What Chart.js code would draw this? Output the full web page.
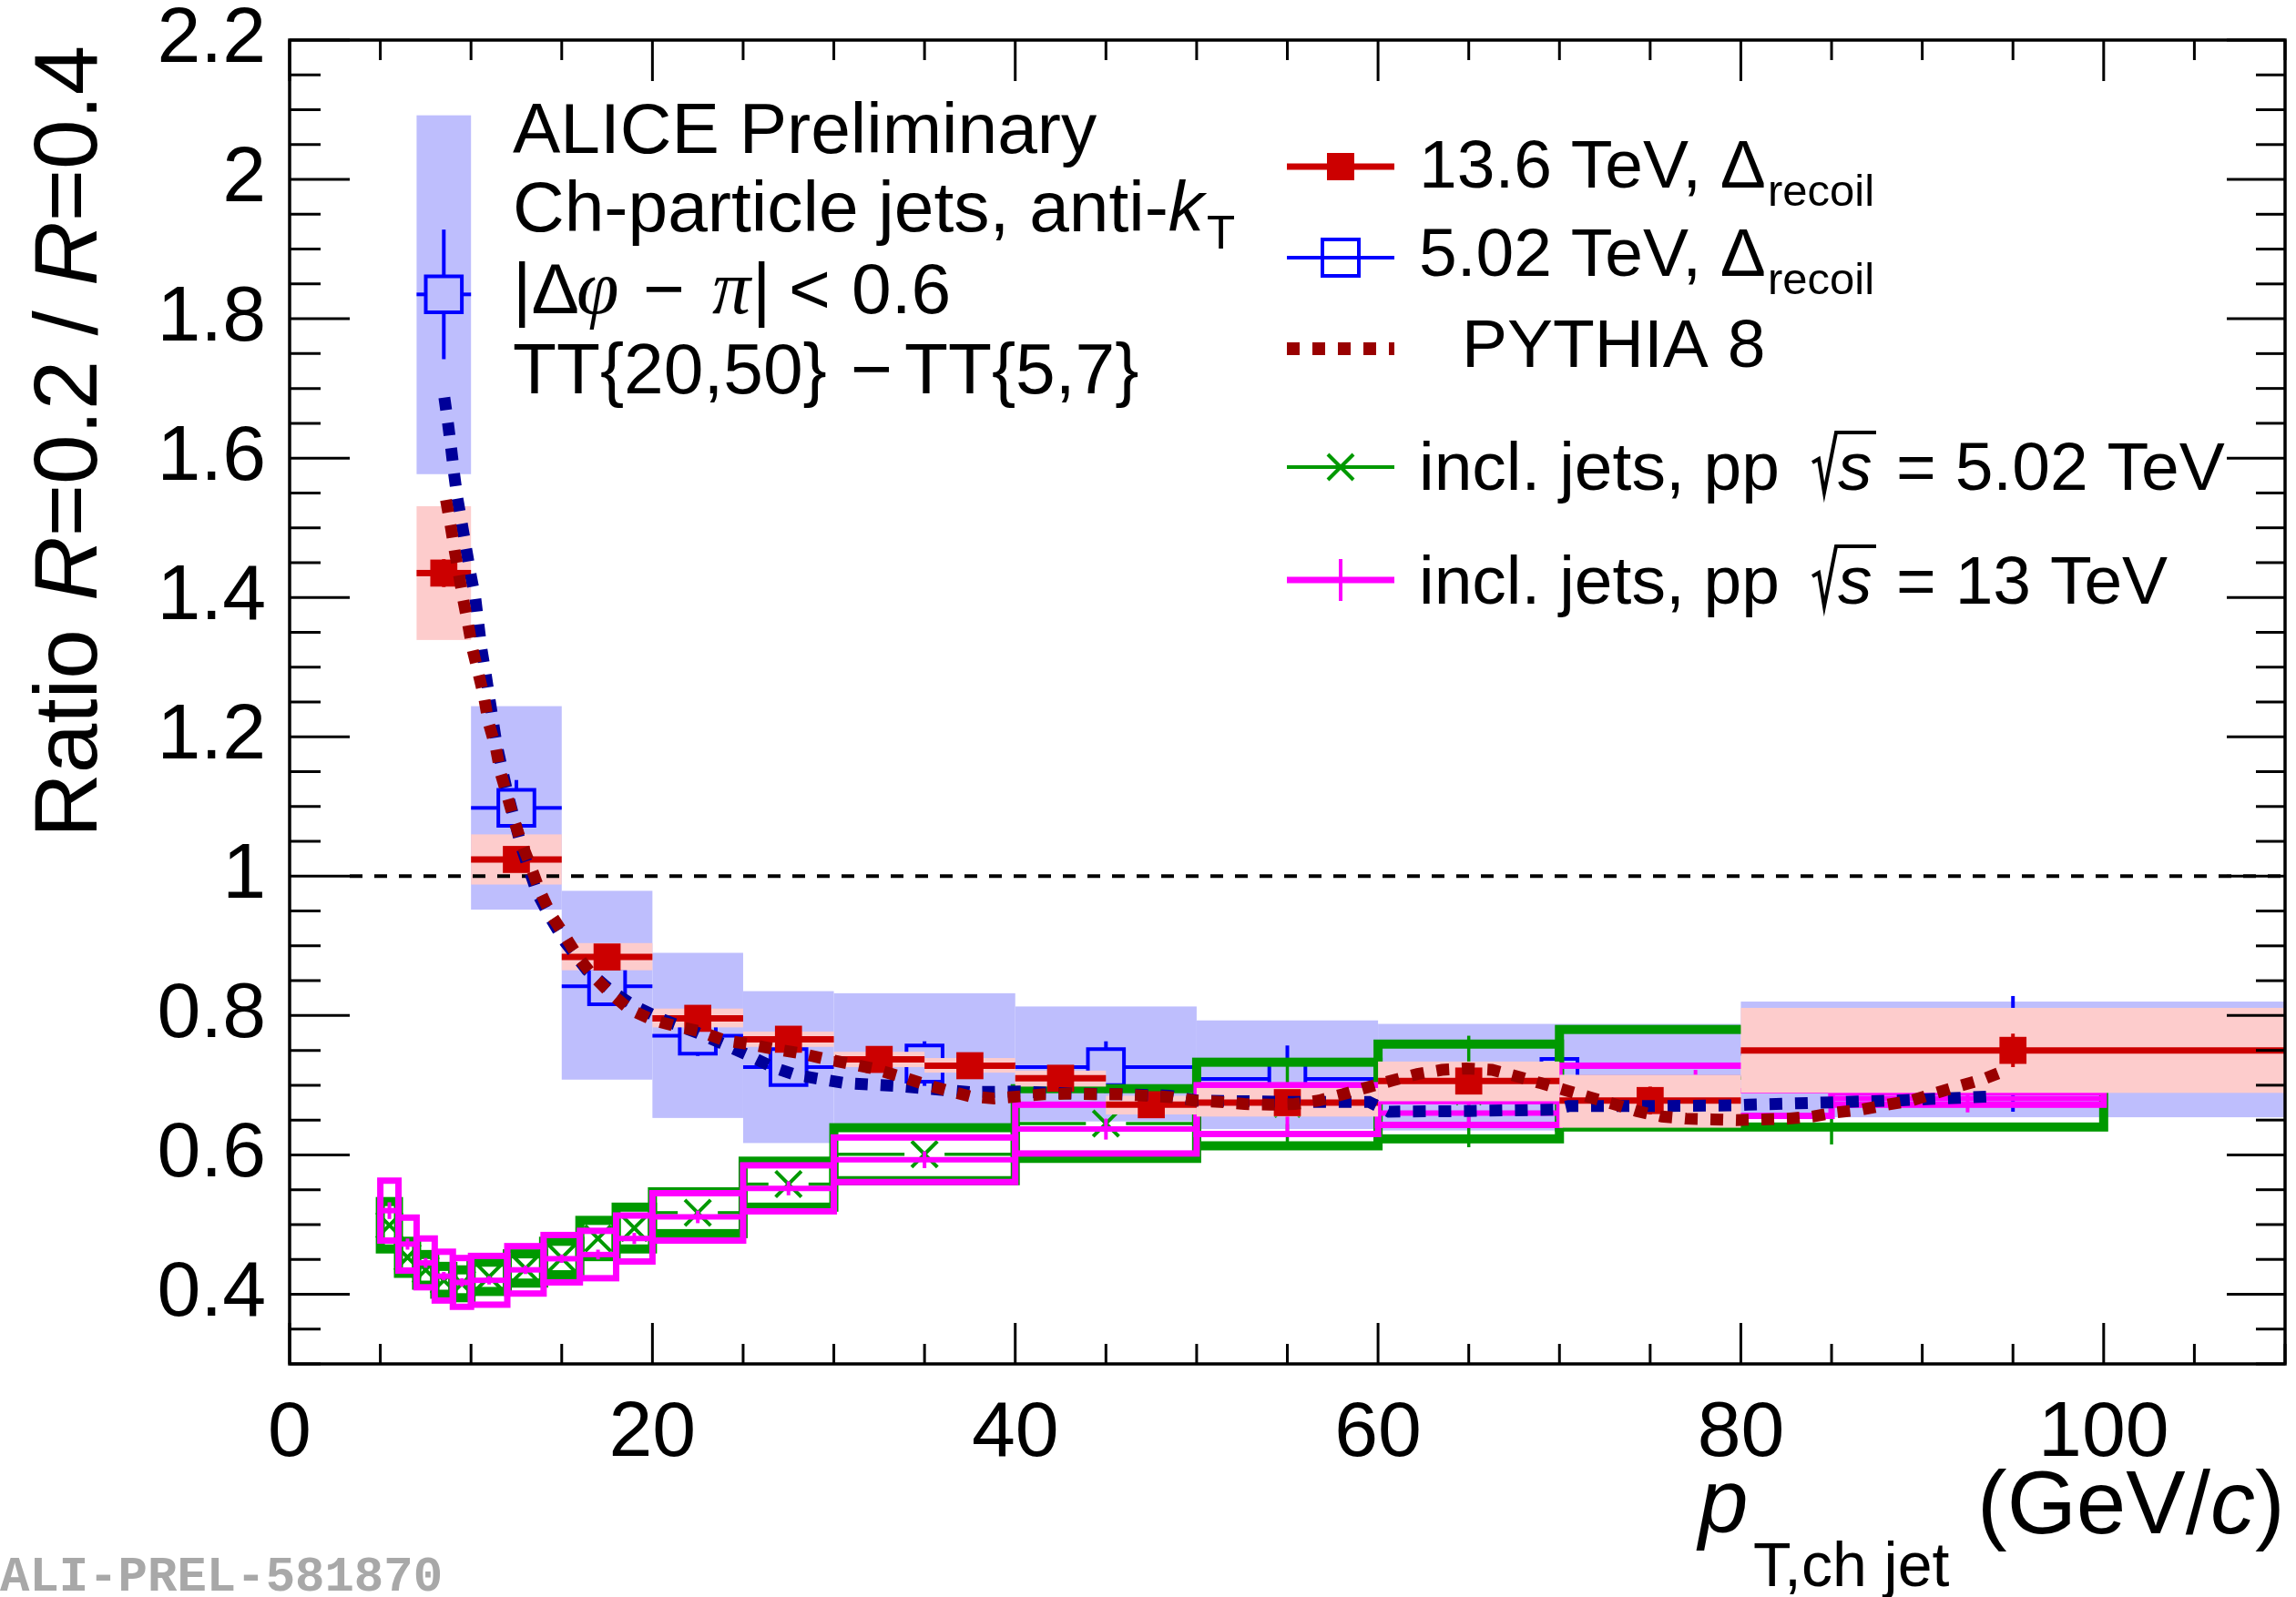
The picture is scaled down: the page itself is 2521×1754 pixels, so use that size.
<!DOCTYPE html>
<html><head><meta charset="utf-8">
<script src="https://cdn.jsdelivr.net/npm/chart.js@4.4.1/dist/chart.umd.min.js"></script>
<style>html,body{margin:0;padding:0;background:#fff;overflow:hidden}canvas{display:block}</style>
</head><body>
<canvas id="c" width="2521" height="1754" style="width:2521px;height:1754px"></canvas>
<script>
// ================= DATA =================
const xTickValues = [0, 20, 40, 60, 80, 100];
const yTickValues = [0.4, 0.6, 0.8, 1.0, 1.2, 1.4, 1.6, 1.8, 2.0, 2.2];

// 13.6 TeV, Delta_recoil
const r136Edges = [7, 10, 15, 20, 25, 30, 35, 40, 45, 50, 60, 70, 80, 110];
const r136X     = [8.5, 12.5, 17.5, 22.5, 27.5, 32.5, 37.5, 42.5, 47.5, 55, 65, 75, 95];
const r136Y     = [1.435, 1.024, 0.884, 0.796, 0.766, 0.737, 0.728, 0.710, 0.672, 0.675, 0.706, 0.678, 0.750];
const r136Stat  = [0.020, 0.012, 0.010, 0.008, 0.008, 0.008, 0.008, 0.008, 0.010, 0.012, 0.015, 0.020, 0.024];
const r136SysLo = [1.339, 0.988, 0.865, 0.783, 0.755, 0.726, 0.718, 0.698, 0.658, 0.655, 0.677, 0.639, 0.689];
const r136SysHi = [1.531, 1.060, 0.904, 0.810, 0.777, 0.748, 0.739, 0.721, 0.685, 0.696, 0.734, 0.715, 0.811];

// 5.02 TeV, Delta_recoil
const r502Edges = [7, 10, 15, 20, 25, 30, 40, 50, 60, 80, 110];
const r502X     = [8.5, 12.5, 17.5, 22.5, 27.5, 35, 45, 55, 70, 95];
const r502Y     = [1.835, 1.098, 0.842, 0.771, 0.726, 0.731, 0.726, 0.709, 0.712, 0.745];
const r502Stat  = [0.093, 0.040, 0.026, 0.029, 0.018, 0.032, 0.037, 0.048, 0.030, 0.083];
const r502SysLo = [1.577, 0.952, 0.708, 0.653, 0.617, 0.643, 0.648, 0.637, 0.635, 0.654];
const r502SysHi = [2.092, 1.244, 0.979, 0.890, 0.835, 0.832, 0.813, 0.793, 0.788, 0.820];

// incl. jets, pp sqrt(s) = 5.02 TeV
const pp502Edges = [5, 6, 7, 8, 9, 10, 12, 14, 16, 18, 20, 25, 30, 40, 50, 60, 70, 100];
const pp502X     = [5.5, 6.5, 7.5, 8.5, 9.5, 11, 13, 15, 17, 19, 22.5, 27.5, 35, 45, 55, 65, 85];
const pp502Y     = [0.499, 0.453, 0.435, 0.420, 0.415, 0.425, 0.437, 0.452, 0.480, 0.495, 0.517, 0.558, 0.601, 0.645, 0.673, 0.691, 0.710];
const pp502Stat  = [0.006, 0.005, 0.005, 0.005, 0.005, 0.005, 0.005, 0.006, 0.006, 0.007, 0.008, 0.010, 0.012, 0.020, 0.065, 0.080, 0.095];
const pp502Sys   = [0.034, 0.023, 0.022, 0.020, 0.020, 0.021, 0.021, 0.024, 0.026, 0.030, 0.030, 0.033, 0.038, 0.050, 0.060, 0.068, 0.070];

// incl. jets, pp sqrt(s) = 13 TeV
const pp13Edges = [5, 6, 7, 8, 9, 10, 12, 14, 16, 18, 20, 25, 30, 40, 50, 60, 70, 85, 100];
const pp13X     = [5.5, 6.5, 7.5, 8.5, 9.5, 11, 13, 15, 17, 19, 22.5, 27.5, 35, 45, 55, 65, 77.5, 92.5];
const pp13Y     = [0.520, 0.472, 0.445, 0.426, 0.417, 0.420, 0.435, 0.451, 0.457, 0.480, 0.511, 0.552, 0.593, 0.637, 0.665, 0.660, 0.692, 0.681];
const pp13Stat  = [0.012, 0.008, 0.007, 0.006, 0.006, 0.006, 0.006, 0.006, 0.007, 0.008, 0.009, 0.010, 0.012, 0.015, 0.037, 0.020, 0.030, 0.020];
const pp13Sys   = [0.043, 0.038, 0.035, 0.035, 0.035, 0.035, 0.034, 0.034, 0.034, 0.033, 0.034, 0.033, 0.032, 0.035, 0.035, 0.017, 0.036, 0.009];

// PYTHIA 8 (13.6 TeV setting)
const pyth136X = [8.62, 8.87, 9.10, 9.34, 9.57, 9.84, 10.08, 10.41, 10.71, 10.96, 11.37, 11.62, 12.0, 12.37, 12.79, 13.29, 13.79, 14.38, 15.13, 15.88, 16.72, 17.64, 18.73, 19.98, 21.24, 22.66, 24.0, 25.37, 26.71, 28.13, 29.47, 30.81, 32.15, 33.48, 34.82, 36.16, 37.5, 38.84, 40.26, 41.59, 43.02, 44.36, 45.78, 47.12, 48.54, 49.88, 51.3, 52.64, 54.07, 55.41, 56.74, 58.08, 59.42, 60.82, 62.17, 63.52, 64.89, 66.28, 67.62, 68.96, 70.3, 71.64, 72.98, 74.24, 75.65, 76.99, 78.41, 79.75, 81.18, 82.57, 83.94, 85.28, 86.67, 88.04, 89.42, 90.77, 92.06, 93.4, 94.66];
const pyth136Y = [1.540, 1.504, 1.467, 1.432, 1.397, 1.361, 1.326, 1.291, 1.258, 1.221, 1.184, 1.149, 1.115, 1.081, 1.047, 1.014, 0.979, 0.946, 0.916, 0.885, 0.857, 0.833, 0.809, 0.794, 0.785, 0.777, 0.764, 0.759, 0.752, 0.746, 0.738, 0.731, 0.724, 0.714, 0.703, 0.693, 0.684, 0.681, 0.684, 0.687, 0.688, 0.687, 0.687, 0.685, 0.683, 0.678, 0.676, 0.673, 0.672, 0.673, 0.678, 0.687, 0.697, 0.707, 0.716, 0.722, 0.724, 0.722, 0.713, 0.703, 0.693, 0.683, 0.673, 0.663, 0.655, 0.652, 0.651, 0.650, 0.651, 0.652, 0.655, 0.661, 0.665, 0.672, 0.678, 0.689, 0.699, 0.709, 0.722];

// PYTHIA 8 (5.02 TeV setting)
const pyth502X = [8.53, 8.73, 8.91, 9.07, 9.25, 9.6, 10.0, 10.24, 10.57, 10.79, 11.4, 12.0, 12.8, 13.63, 14.29, 15.2, 16.4, 17.74, 18.99, 20.5, 22.5, 24.1, 25.37, 26.62, 27.88, 29.22, 30.64, 31.98, 33.4, 34.74, 37.5, 40.26, 43.0, 45.8, 48.5, 50.0, 55.0, 59.5, 60.6, 65.0, 69.7, 70.5, 75.0, 79.5, 80.4, 83.1, 85.8, 88.5, 91.2, 93.9];
const pyth502Y = [1.687, 1.650, 1.613, 1.577, 1.542, 1.490, 1.430, 1.398, 1.327, 1.293, 1.190, 1.120, 1.040, 0.977, 0.944, 0.905, 0.865, 0.835, 0.814, 0.795, 0.775, 0.757, 0.742, 0.726, 0.715, 0.709, 0.703, 0.701, 0.699, 0.696, 0.690, 0.691, 0.688, 0.687, 0.685, 0.678, 0.676, 0.676, 0.662, 0.663, 0.665, 0.670, 0.670, 0.671, 0.672, 0.674, 0.676, 0.678, 0.681, 0.684];

// ================= STYLE =================
const C_RED = '#cc0000', C_PINK = '#fdcccc';
const C_BLUE = '#0000ff', C_LBLUE = '#bebefd';
const C_GREEN = '#009900', C_MAG = '#ff00ff';
const C_PYR = '#990000', C_PYB = '#000099';
const SANS = '"Liberation Sans", Arial, Helvetica, sans-serif';
const SERIF = '"Liberation Serif", "Times New Roman", serif';
const AREA = { left: 318, right: 2509, top: 44, bottom: 1498 };

const pts = (xs, ys) => xs.map((x, i) => ({x: x, y: ys[i]}));

function seg(ctx, x0, y0, x1, y1) { ctx.beginPath(); ctx.moveTo(x0, y0); ctx.lineTo(x1, y1); ctx.stroke(); }

function fillBoxes(ctx, chart, edges, lo, hi, color) {
  const sx = chart.scales.x, sy = chart.scales.y;
  ctx.fillStyle = color;
  for (let i = 0; i < lo.length; i++) {
    const x0 = sx.getPixelForValue(edges[i]), x1 = sx.getPixelForValue(edges[i + 1]);
    const y0 = sy.getPixelForValue(hi[i]), y1 = sy.getPixelForValue(lo[i]);
    ctx.fillRect(x0, y0, x1 - x0, y1 - y0);
  }
}
function strokeBoxes(ctx, chart, edges, ys, sys, color, lw) {
  const sx = chart.scales.x, sy = chart.scales.y;
  ctx.strokeStyle = color; ctx.lineWidth = lw; ctx.lineJoin = 'miter';
  for (let i = 0; i < ys.length; i++) {
    const x0 = sx.getPixelForValue(edges[i]), x1 = sx.getPixelForValue(edges[i + 1]);
    const y0 = sy.getPixelForValue(ys[i] + sys[i]), y1 = sy.getPixelForValue(ys[i] - sys[i]);
    ctx.strokeRect(x0, y0, x1 - x0, y1 - y0);
  }
}
function errBars(ctx, chart, edges, xs, ys, st, color, lwH, lwV, gap) {
  const sx = chart.scales.x, sy = chart.scales.y;
  ctx.strokeStyle = color; ctx.lineCap = 'butt';
  for (let i = 0; i < xs.length; i++) {
    const xc = sx.getPixelForValue(xs[i]), yc = sy.getPixelForValue(ys[i]);
    const xl = sx.getPixelForValue(edges[i]), xr = sx.getPixelForValue(edges[i + 1]);
    ctx.lineWidth = lwH;
    if (xc - gap > xl) seg(ctx, xl, yc, xc - gap, yc);
    if (xr > xc + gap) seg(ctx, xc + gap, yc, xr, yc);
    const yt = sy.getPixelForValue(ys[i] + st[i]), yb = sy.getPixelForValue(ys[i] - st[i]);
    ctx.lineWidth = lwV;
    if (yc - gap > yt) seg(ctx, xc, yt, xc, yc - gap);
    if (yb > yc + gap) seg(ctx, xc, yc + gap, xc, yb);
  }
}

const layers = {
  b502(ctx, chart) {
    fillBoxes(ctx, chart, r502Edges, r502SysLo, r502SysHi, C_LBLUE);
    errBars(ctx, chart, r502Edges, r502X, r502Y, r502Stat, C_BLUE, 4, 4, 20);
  },
  g502(ctx, chart) {
    strokeBoxes(ctx, chart, pp502Edges, pp502Y, pp502Sys, C_GREEN, 10);
    errBars(ctx, chart, pp502Edges, pp502X, pp502Y, pp502Stat, C_GREEN, 3.5, 3.5, 22);
  },
  m13(ctx, chart) {
    strokeBoxes(ctx, chart, pp13Edges, pp13Y, pp13Sys, C_MAG, 7);
    errBars(ctx, chart, pp13Edges, pp13X, pp13Y, pp13Stat, C_MAG, 6, 4, 0);
  },
  r136(ctx, chart) {
    fillBoxes(ctx, chart, r136Edges, r136SysLo, r136SysHi, C_PINK);
    const sx = chart.scales.x, sy = chart.scales.y;
    ctx.save();
    ctx.strokeStyle = '#000'; ctx.lineWidth = 4; ctx.setLineDash([14, 13]);
    seg(ctx, sx.getPixelForValue(0) + 66, sy.getPixelForValue(1), sx.getPixelForValue(110), sy.getPixelForValue(1));
    ctx.restore();
    errBars(ctx, chart, r136Edges, r136X, r136Y, r136Stat, C_RED, 7, 4, 0);
  }
};

function txt(ctx, s, x, y, font, color, align) {
  ctx.font = font; ctx.fillStyle = color || '#000'; ctx.textAlign = align || 'left'; ctx.textBaseline = 'alphabetic';
  ctx.fillText(s, x, y);
  return x + ctx.measureText(s).width;
}

const alicePlugin = {
  id: 'alice',
  beforeDatasetDraw(chart, args) {
    const key = chart.data.datasets[args.index].key;
    if (!layers[key]) return;
    const ctx = chart.ctx, a = chart.chartArea;
    ctx.save();
    ctx.beginPath(); ctx.rect(a.left, a.top, a.right - a.left, a.bottom - a.top); ctx.clip();
    layers[key](ctx, chart);
    ctx.restore();
  },
  afterDraw(chart) {
    const ctx = chart.ctx, a = chart.chartArea;
    const sx = chart.scales.x, sy = chart.scales.y;
    ctx.save();
    ctx.strokeStyle = '#000'; ctx.lineWidth = 3.5; ctx.setLineDash([]);
    ctx.strokeRect(a.left, a.top, a.right - a.left, a.bottom - a.top);
    ctx.lineWidth = 3;
    for (let k = 6; k <= 44; k++) {
      const y = sy.getPixelForValue(k * 0.05);
      const major = k % 4 === 0;
      seg(ctx, a.left, y, a.left + (major ? 66 : 34), y);
      seg(ctx, a.right, y, a.right - (major ? 64 : 32), y);
    }
    for (let k = 0; k <= 22; k++) {
      const x = sx.getPixelForValue(k * 5);
      const major = k % 4 === 0;
      seg(ctx, x, a.bottom, x, a.bottom - (major ? 45 : 22));
      seg(ctx, x, a.top, x, a.top + (major ? 45 : 22));
    }

    // ---- annotation block ----
    const F = '78.5px ' + SANS, FI = 'italic 78.5px ' + SANS;
    txt(ctx, 'ALICE Preliminary', 563, 168, F);
    let x = txt(ctx, 'Ch-particle jets, anti-', 563, 254, F);
    x = txt(ctx, 'k', x, 254, FI);
    txt(ctx, 'T', x + 3, 273, '51px ' + SANS);
    txt(ctx, '|\u0394', 563, 344, F);
    txt(ctx, '\u03C6', 633, 344, 'italic 84px ' + SERIF);
    txt(ctx, '\u2212', 706, 344, F);
    txt(ctx, '\u03C0', 782, 344, 'italic 84px ' + SERIF);
    txt(ctx, '|', 826, 344, F);
    txt(ctx, '<', 866, 344, F);
    txt(ctx, '0.6', 935, 344, F);
    txt(ctx, 'TT{20,50}', 563, 432, F);
    txt(ctx, '\u2212', 934, 432, F);
    txt(ctx, 'TT{5,7}', 993, 432, F);

    // ---- legend ----
    const LF = '75px ' + SANS, SUB = '49px ' + SANS;
    const lx0 = 1413, lx1 = 1531, lxc = 1472;
    ctx.strokeStyle = C_RED; ctx.lineWidth = 7; seg(ctx, lx0, 183, lx1, 183);
    ctx.fillStyle = C_RED; ctx.fillRect(lxc - 15, 183 - 15, 30, 30);
    x = txt(ctx, '13.6 TeV, \u0394', 1558, 206, LF);
    txt(ctx, 'recoil', x + 2, 226, SUB);
    ctx.strokeStyle = C_BLUE; ctx.lineWidth = 4; seg(ctx, lx0, 283, lx1, 283);
    ctx.strokeRect(lxc - 20, 283 - 20, 40, 40);
    x = txt(ctx, '5.02 TeV, \u0394', 1558, 303, LF);
    txt(ctx, 'recoil', x + 2, 323, SUB);
    ctx.save(); ctx.strokeStyle = C_PYR; ctx.lineWidth = 14; ctx.setLineDash([14, 14]);
    seg(ctx, lx0, 383, lx1, 383); ctx.restore();
    txt(ctx, 'PYTHIA 8', 1605, 403, LF);
    const sqrtRow = (b, energy) => {
      txt(ctx, 'incl. jets, pp', 1558, b, LF);
      ctx.strokeStyle = '#000'; ctx.lineWidth = 4; ctx.lineJoin = 'miter';
      ctx.beginPath();
      ctx.moveTo(1990, b - 30); ctx.lineTo(1997, b - 34); ctx.lineTo(2003, b + 3);
      ctx.lineTo(2016, b - 63); ctx.lineTo(2060, b - 63); ctx.stroke();
      txt(ctx, 's', 2018, b, 'italic 75px ' + SANS);
      txt(ctx, '= ' + energy, 2082, b, LF);
    };
    ctx.strokeStyle = C_GREEN; ctx.lineWidth = 4; seg(ctx, lx0, 513, lx1, 513);
    seg(ctx, lxc - 14, 513 - 14, lxc + 14, 513 + 14); seg(ctx, lxc - 14, 513 + 14, lxc + 14, 513 - 14);
    sqrtRow(538, '5.02 TeV');
    ctx.strokeStyle = C_MAG; ctx.lineWidth = 7; seg(ctx, lx0, 637, lx1, 637);
    ctx.lineWidth = 4; seg(ctx, lxc, 614, lxc, 660);
    sqrtRow(663, '13 TeV');

    // ---- axis titles ----
    ctx.save();
    ctx.translate(106, 920); ctx.rotate(-Math.PI / 2);
    const TF = '98px ' + SANS, TFI = 'italic 98px ' + SANS;
    x = txt(ctx, 'Ratio ', 0, 0, TF);
    x = txt(ctx, 'R', x + 4, 0, TFI);
    x = txt(ctx, '=0.2 / ', x, 0, TF);
    x = txt(ctx, 'R', x, 0, TFI);
    txt(ctx, '=0.4', x, 0, TF);
    ctx.restore();
    txt(ctx, 'p', 1865, 1683, 'italic 98px ' + SANS);
    txt(ctx, 'T,ch jet', 1925, 1742, '68px ' + SANS);
    x = txt(ctx, '(GeV/', 2171, 1684, TF);
    x = txt(ctx, 'c', x, 1684, TFI);
    txt(ctx, ')', x, 1684, TF);

    txt(ctx, 'ALI-PREL-581870', 0, 1747, 'bold 54px "Liberation Mono", monospace', '#a8a8a8');
    ctx.restore();
  }
};

const chart = new Chart(document.getElementById('c'), {
  type: 'scatter',
  data: {
    datasets: [
      { key: 'pyr', label: 'PYTHIA 8', data: pts(pyth136X, pyth136Y), showLine: true, tension: 0,
        borderColor: C_PYR, borderWidth: 13, borderDash: [14, 14], borderCapStyle: 'butt',
        pointRadius: 0, order: 1 },
      { key: 'pyb', label: 'PYTHIA 8 (5.02)', data: pts(pyth502X, pyth502Y), showLine: true, tension: 0,
        borderColor: C_PYB, borderWidth: 13, borderDash: [14, 14], borderCapStyle: 'butt',
        pointRadius: 0, order: 2 },
      { key: 'r136', label: '13.6 TeV', data: pts(r136X, r136Y), pointStyle: 'rect', pointRadius: 21,
        backgroundColor: C_RED, borderColor: C_RED, borderWidth: 0, order: 3 },
      { key: 'm13', label: 'incl. jets 13 TeV', data: pts(pp13X, pp13Y), pointRadius: 0, order: 4 },
      { key: 'g502', label: 'incl. jets 5.02 TeV', data: pts(pp502X, pp502Y), pointStyle: 'crossRot', pointRadius: 20,
        borderColor: C_GREEN, backgroundColor: C_GREEN, borderWidth: 4, order: 5 },
      { key: 'b502', label: '5.02 TeV', data: pts(r502X, r502Y), pointStyle: 'rect', pointRadius: 28,
        backgroundColor: 'rgba(0,0,0,0)', borderColor: C_BLUE, borderWidth: 4, order: 6 }
    ]
  },
  options: {
    responsive: false, devicePixelRatio: 1, animation: false,
    layout: { autoPadding: false, padding: { left: 0, right: 12, top: 44, bottom: 0 } },
    plugins: { legend: { display: false }, tooltip: { enabled: false } },
    scales: {
      x: {
        type: 'linear', min: 0, max: 110,
        grid: { display: false, drawTicks: false }, border: { display: false },
        afterBuildTicks: s => { s.ticks = xTickValues.map(v => ({ value: v })); },
        afterFit: s => { s.height = 256; s.paddingLeft = 0; s.paddingRight = 0; },
        ticks: { autoSkip: false, maxRotation: 0, padding: 26, color: '#000',
                 font: { family: SANS, size: 86 }, callback: v => String(v) }
      },
      y: {
        type: 'linear', min: 0.3, max: 2.2,
        grid: { display: false, drawTicks: false }, border: { display: false },
        afterBuildTicks: s => { s.ticks = yTickValues.map(v => ({ value: v })); },
        afterFit: s => { s.width = 318; s.paddingTop = 0; s.paddingBottom = 0; },
        ticks: { autoSkip: false, padding: 26, color: '#000',
                 font: { family: SANS, size: 86 }, callback: v => String(Number(v.toFixed(1))) }
      }
    }
  },
  plugins: [alicePlugin]
});

// pin the plot frame to the reference position
for (let it = 0; it < 3; it++) {
  const ca = chart.chartArea, p = chart.options.layout.padding;
  const dR = ca.right - AREA.right, dT = AREA.top - ca.top, dB = ca.bottom - AREA.bottom, dL = AREA.left - ca.left;
  if (Math.abs(dR) < 0.5 && Math.abs(dT) < 0.5 && Math.abs(dB) < 0.5 && Math.abs(dL) < 0.5) break;
  p.right += dR; p.top += dT; p.bottom += dB; p.left += dL;
  chart.update();
}
</script>
</body></html>
